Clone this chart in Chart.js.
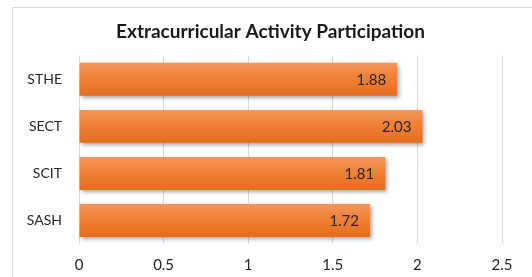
<!DOCTYPE html>
<html>
<head>
<meta charset="utf-8">
<script src="https://cdn.jsdelivr.net/npm/chart.js@4"></script>
<style>
  html, body { margin: 0; padding: 0; background: #fff; }
  #wrap { position: relative; width: 532px; height: 277px; }
  #frame { position: absolute; left: 12px; top: 7px; width: 540px; height: 290px; border: 1px solid #d9d9d9; box-sizing: border-box; }
  canvas { position: absolute; left: 0; top: 0; }
</style>
</head>
<body>
<div id="wrap">
  <div id="frame"></div>
  <canvas id="barChart" width="532" height="277"></canvas>
</div>
<script>
var categories = ["STHE", "SECT", "SCIT", "SASH"];
var participation = [1.88, 2.03, 1.81, 1.72];
var xTicks = [0, 0.5, 1, 1.5, 2, 2.5];

var fontFamily = "Lato, 'Open Sans', sans-serif";

// draws the value near the end of each bar
var valueLabels = {
  id: 'valueLabels',
  afterDatasetsDraw: function (chart) {
    var ctx = chart.ctx;
    var meta = chart.getDatasetMeta(0);
    ctx.save();
    ctx.font = "15px " + fontFamily;
    ctx.fillStyle = "#262626";
    ctx.textAlign = "right";
    ctx.textBaseline = "middle";
    meta.data.forEach(function (bar, i) {
      ctx.fillText(participation[i].toFixed(2), bar.x - 11, bar.y + 1);
    });
    ctx.restore();
  }
};

// soft shadow under the bars
var barShadow = {
  id: 'barShadow',
  beforeDatasetsDraw: function (chart) {
    var ctx = chart.ctx;
    ctx.save();
    ctx.shadowColor = "rgba(0,0,0,0.35)";
    ctx.shadowBlur = 4;
    ctx.shadowOffsetX = 2;
    ctx.shadowOffsetY = 2;
  },
  afterDatasetsDraw: function (chart) {
    chart.ctx.restore();
  }
};

// centre the title over the frame rather than the whole canvas
var titleShift = {
  id: 'titleShift',
  afterLayout: function (chart) {
    var t = chart.titleBlock;
    if (t) { t.left += 27; t.width -= 27; }
  }
};

function barFill(context) {
  var chart = context.chart;
  if (!chart.chartArea) return "#EE7D30";
  var y = chart.scales.y.getPixelForValue(context.dataIndex);
  var g = chart.ctx.createLinearGradient(0, y - 17, 0, y + 17);
  g.addColorStop(0, "#F4975A");
  g.addColorStop(0.5, "#EF7F33");
  g.addColorStop(1, "#E56C1B");
  return g;
}

var barChart = document.getElementById('barChart').getContext('2d');
var myBarChart = new Chart(barChart, {
  type: 'bar',
  data: {
    labels: categories,
    datasets: [{
      label: "Participation",
      data: participation,
      backgroundColor: barFill,
      borderWidth: 0,
      barPercentage: 0.7,
      categoryPercentage: 1
    }]
  },
  options: {
    indexAxis: 'y',
    responsive: false,
    animation: false,
    layout: { padding: { left: 12, right: 30, top: 0, bottom: 0 } },
    plugins: {
      legend: { display: false },
      tooltip: { enabled: false },
      title: {
        display: true,
        text: 'Extracurricular Activity Participation',
        color: '#1a1a1a',
        font: { family: fontFamily, size: 19, weight: 'bold' },
        padding: { top: 20, bottom: 13 }
      }
    },
    scales: {
      x: {
        min: 0,
        max: 2.5,
        afterBuildTicks: function (axis) {
          axis.ticks = xTicks.map(function (v) { return { value: v }; });
        },
        grid: { color: '#d9d9d9', drawTicks: false },
        border: { display: false },
        ticks: {
          padding: 12,
          color: '#262626',
          font: { family: fontFamily, size: 15 },
          callback: function (v) { return String(v); }
        },
        afterFit: function (axis) { axis.height = 33; }
      },
      y: {
        grid: { display: false, drawTicks: false },
        border: { display: false },
        ticks: {
          padding: 17,
          color: '#262626',
          font: { family: fontFamily, size: 14 }
        },
        afterFit: function (axis) { axis.width = 67; }
      }
    }
  },
  plugins: [barShadow, valueLabels, titleShift]
});
</script>
</body>
</html>
